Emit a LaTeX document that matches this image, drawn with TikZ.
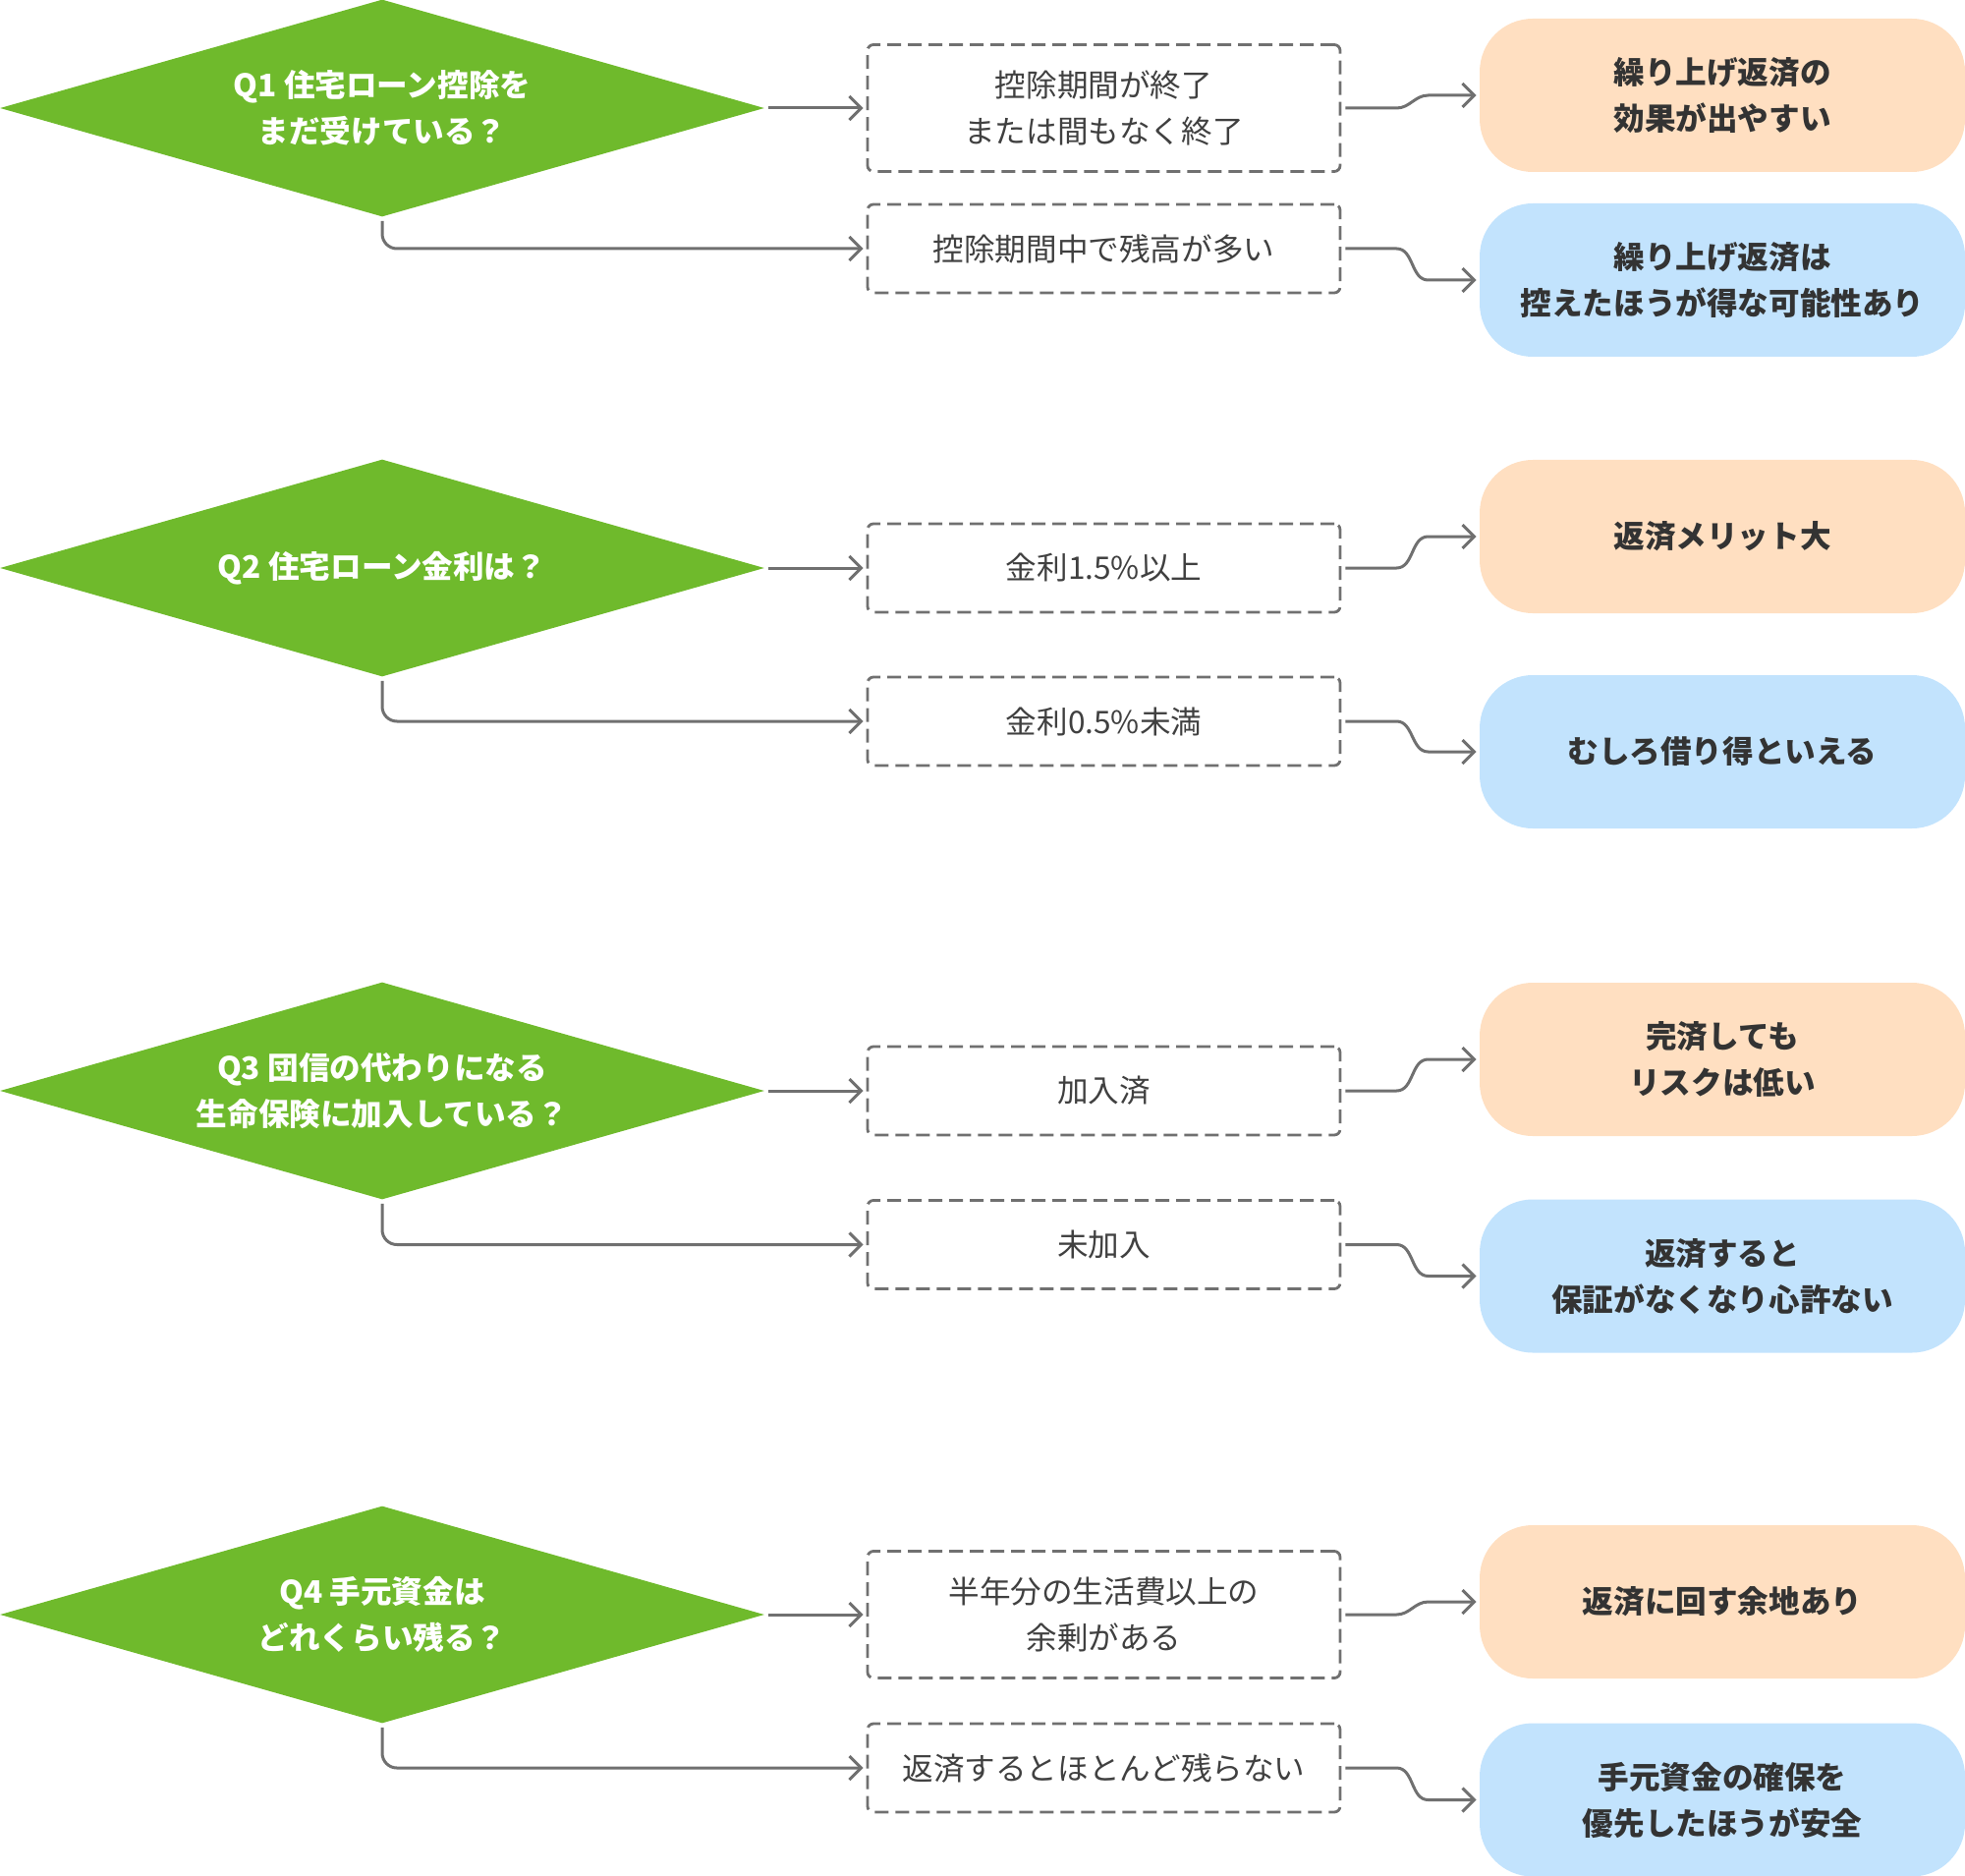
\documentclass[tikz,border=0pt]{standalone}
\usepackage{fontspec}
\setmainfont{Noto Sans CJK JP}
\usetikzlibrary{shapes.geometric,arrows.meta}
\definecolor{qgreen}{HTML}{6FBA2C}
\definecolor{yesfill}{HTML}{FFDFC1}
\definecolor{nofill}{HTML}{C2E3FD}
\definecolor{linegray}{HTML}{707070}
\definecolor{boxtext}{HTML}{404040}
\definecolor{restext}{HTML}{333333}
\begin{document}
\begin{tikzpicture}[x=0.5pt,y=-0.5pt,
  question/.style={diamond,aspect=3.52,fill=qgreen,text=white,inner sep=0pt,
    minimum width=389pt,minimum height=110.5pt,align=center,
    font=\bfseries\fontsize{15.8}{23.5}\selectfont},
  choice/.style={draw=linegray,line width=1.4pt,dash pattern=on 7pt off 3.5pt,
    rounded corners=3pt,minimum width=240.5pt,inner sep=0pt,align=center,
    text=boxtext,font=\fontsize{15.8}{23.5}\selectfont},
  result/.style={rounded corners=27pt,minimum width=247pt,minimum height=78pt,
    inner sep=0pt,align=center,text=restext,font=\bfseries\fontsize{15.8}{23.5}\selectfont},
  yes/.style={result,fill=yesfill},
  no/.style={result,fill=nofill},
  link/.style={draw=linegray,line width=1.5pt,-{Straight Barb[length=6pt,width=12pt]},
    shorten <=2pt,shorten >=1.5pt}]
  \useasboundingbox (0,0) rectangle (2000,1909);

  % Q1
  \node[question] (q1) at (389,110) {Q1 住宅ローン控除を\\まだ受けている？};
  \node[choice,minimum height=64.5pt] (a1) at (1123.5,110) {控除期間が終了\\または間もなく終了};
  \node[choice,minimum height=45pt] (b1) at (1123.5,253) {控除期間中で残高が多い};
  \node[yes] (r1a) at (1753,97) {繰り上げ返済の\\効果が出やすい};
  \node[no] (r1b) at (1753,285) {繰り上げ返済は\\控えたほうが得な可能性あり};
  \draw[link] (q1.east) -- (a1.west);
  \draw[link,rounded corners=7.5pt] (q1.south) |- (b1.west);
  \draw[link] (a1.east) -- ([xshift=28pt]a1.east) to[out=0,in=180] ([xshift=-26pt]r1a.west) -- (r1a.west);
  \draw[link] (b1.east) -- ([xshift=28pt]b1.east) to[out=0,in=180] ([xshift=-26pt]r1b.west) -- (r1b.west);

  % Q2
  \node[question] (q2) at (389,578) {Q2 住宅ローン金利は？};
  \node[choice,minimum height=45pt] (a2) at (1123.5,578) {金利1.5\%以上};
  \node[choice,minimum height=45pt] (b2) at (1123.5,734) {金利0.5\%未満};
  \node[yes] (r2a) at (1753,546) {返済メリット大};
  \node[no] (r2b) at (1753,765) {むしろ借り得といえる};
  \draw[link] (q2.east) -- (a2.west);
  \draw[link,rounded corners=7.5pt] (q2.south) |- (b2.west);
  \draw[link] (a2.east) -- ([xshift=28pt]a2.east) to[out=0,in=180] ([xshift=-26pt]r2a.west) -- (r2a.west);
  \draw[link] (b2.east) -- ([xshift=28pt]b2.east) to[out=0,in=180] ([xshift=-26pt]r2b.west) -- (r2b.west);

  % Q3
  \node[question] (q3) at (389,1110) {Q3 団信の代わりになる\\生命保険に加入している？};
  \node[choice,minimum height=45pt] (a3) at (1123.5,1110) {加入済};
  \node[choice,minimum height=45pt] (b3) at (1123.5,1266.5) {未加入};
  \node[yes] (r3a) at (1753,1078) {完済しても\\リスクは低い};
  \node[no] (r3b) at (1753,1298.5) {返済すると\\保証がなくなり心許ない};
  \draw[link] (q3.east) -- (a3.west);
  \draw[link,rounded corners=7.5pt] (q3.south) |- (b3.west);
  \draw[link] (a3.east) -- ([xshift=28pt]a3.east) to[out=0,in=180] ([xshift=-26pt]r3a.west) -- (r3a.west);
  \draw[link] (b3.east) -- ([xshift=28pt]b3.east) to[out=0,in=180] ([xshift=-26pt]r3b.west) -- (r3b.west);

  % Q4
  \node[question] (q4) at (389,1643) {Q4 手元資金は\\どれくらい残る？};
  \node[choice,minimum height=64.5pt] (a4) at (1123.5,1643) {半年分の生活費以上の\\余剰がある};
  \node[choice,minimum height=45pt] (b4) at (1123.5,1799) {返済するとほとんど残らない};
  \node[yes] (r4a) at (1753,1630) {返済に回す余地あり};
  \node[no] (r4b) at (1753,1831.5) {手元資金の確保を\\優先したほうが安全};
  \draw[link] (q4.east) -- (a4.west);
  \draw[link,rounded corners=7.5pt] (q4.south) |- (b4.west);
  \draw[link] (a4.east) -- ([xshift=28pt]a4.east) to[out=0,in=180] ([xshift=-26pt]r4a.west) -- (r4a.west);
  \draw[link] (b4.east) -- ([xshift=28pt]b4.east) to[out=0,in=180] ([xshift=-26pt]r4b.west) -- (r4b.west);
\end{tikzpicture}
\end{document}
